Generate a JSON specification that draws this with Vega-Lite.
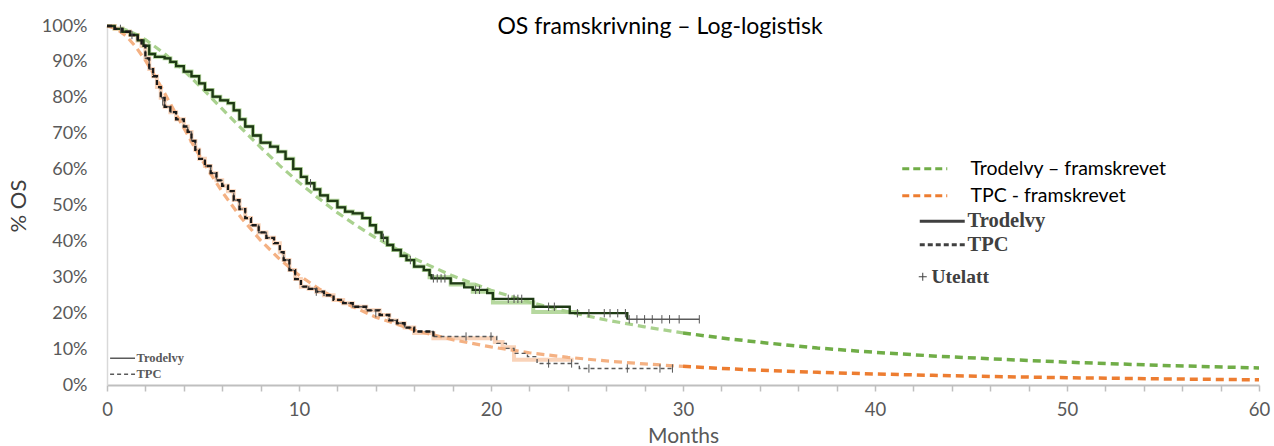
{
  "$schema": "https://vega.github.io/schema/vega-lite/v6.json",
  "width": 1152,
  "height": 359,
  "autosize": "none",
  "padding": {"left": 107, "top": 26, "right": 15, "bottom": 61},
  "background": "white",
  "title": {
    "text": "OS framskrivning – Log-logistisk",
    "frame": "group",
    "anchor": "middle",
    "dx": -23,
    "dy": 30,
    "offset": -10,
    "baseline": "alphabetic",
    "font": "Lato",
    "fontSize": 23,
    "fontWeight": "normal",
    "color": "#000000"
  },
  "config": {
    "view": {"stroke": null},
    "font": "Lato"
  },
  "datasets": {
    "fit": [
      {"serie": "Trodelvy – framskrevet", "t": 0, "S": 100},
      {"serie": "Trodelvy – framskrevet", "t": 0.5, "S": 99.7},
      {"serie": "Trodelvy – framskrevet", "t": 1, "S": 98.9},
      {"serie": "Trodelvy – framskrevet", "t": 1.5, "S": 97.7},
      {"serie": "Trodelvy – framskrevet", "t": 2, "S": 96.2},
      {"serie": "Trodelvy – framskrevet", "t": 3, "S": 92.3},
      {"serie": "Trodelvy – framskrevet", "t": 4, "S": 87.6},
      {"serie": "Trodelvy – framskrevet", "t": 5, "S": 82.4},
      {"serie": "Trodelvy – framskrevet", "t": 6, "S": 76.9},
      {"serie": "Trodelvy – framskrevet", "t": 7, "S": 71.5},
      {"serie": "Trodelvy – framskrevet", "t": 8, "S": 66.2},
      {"serie": "Trodelvy – framskrevet", "t": 9, "S": 61.1},
      {"serie": "Trodelvy – framskrevet", "t": 10, "S": 56.4},
      {"serie": "Trodelvy – framskrevet", "t": 11, "S": 52.1},
      {"serie": "Trodelvy – framskrevet", "t": 12, "S": 48.0},
      {"serie": "Trodelvy – framskrevet", "t": 13, "S": 44.4},
      {"serie": "Trodelvy – framskrevet", "t": 14, "S": 41.0},
      {"serie": "Trodelvy – framskrevet", "t": 16, "S": 35.2},
      {"serie": "Trodelvy – framskrevet", "t": 18, "S": 30.4},
      {"serie": "Trodelvy – framskrevet", "t": 20, "S": 26.4},
      {"serie": "Trodelvy – framskrevet", "t": 22, "S": 23.1},
      {"serie": "Trodelvy – framskrevet", "t": 24, "S": 20.4},
      {"serie": "Trodelvy – framskrevet", "t": 26, "S": 18.1},
      {"serie": "Trodelvy – framskrevet", "t": 28, "S": 16.2},
      {"serie": "Trodelvy – framskrevet", "t": 30, "S": 14.5},
      {"serie": "Trodelvy – framskrevet", "t": 32, "S": 13.1},
      {"serie": "Trodelvy – framskrevet", "t": 34, "S": 11.9},
      {"serie": "Trodelvy – framskrevet", "t": 37, "S": 10.3},
      {"serie": "Trodelvy – framskrevet", "t": 40, "S": 9.1},
      {"serie": "Trodelvy – framskrevet", "t": 43, "S": 8.1},
      {"serie": "Trodelvy – framskrevet", "t": 46, "S": 7.3},
      {"serie": "Trodelvy – framskrevet", "t": 50, "S": 6.35},
      {"serie": "Trodelvy – framskrevet", "t": 55, "S": 5.45},
      {"serie": "Trodelvy – framskrevet", "t": 60, "S": 4.75},
      {"serie": "TPC - framskrevet", "t": 0, "S": 100},
      {"serie": "TPC - framskrevet", "t": 0.5, "S": 99.2},
      {"serie": "TPC - framskrevet", "t": 1, "S": 97.2},
      {"serie": "TPC - framskrevet", "t": 1.5, "S": 94.2},
      {"serie": "TPC - framskrevet", "t": 2, "S": 90.4},
      {"serie": "TPC - framskrevet", "t": 2.5, "S": 86.0},
      {"serie": "TPC - framskrevet", "t": 3, "S": 81.3},
      {"serie": "TPC - framskrevet", "t": 3.5, "S": 76.4},
      {"serie": "TPC - framskrevet", "t": 4, "S": 71.6},
      {"serie": "TPC - framskrevet", "t": 4.5, "S": 66.8},
      {"serie": "TPC - framskrevet", "t": 5, "S": 62.2},
      {"serie": "TPC - framskrevet", "t": 6, "S": 53.8},
      {"serie": "TPC - framskrevet", "t": 7, "S": 46.5},
      {"serie": "TPC - framskrevet", "t": 8, "S": 40.3},
      {"serie": "TPC - framskrevet", "t": 9, "S": 35.0},
      {"serie": "TPC - framskrevet", "t": 10, "S": 30.6},
      {"serie": "TPC - framskrevet", "t": 11, "S": 26.9},
      {"serie": "TPC - framskrevet", "t": 12, "S": 23.8},
      {"serie": "TPC - framskrevet", "t": 14, "S": 18.9},
      {"serie": "TPC - framskrevet", "t": 16, "S": 15.3},
      {"serie": "TPC - framskrevet", "t": 18, "S": 12.6},
      {"serie": "TPC - framskrevet", "t": 20, "S": 10.6},
      {"serie": "TPC - framskrevet", "t": 22, "S": 8.98},
      {"serie": "TPC - framskrevet", "t": 24, "S": 7.71},
      {"serie": "TPC - framskrevet", "t": 26, "S": 6.70},
      {"serie": "TPC - framskrevet", "t": 28, "S": 5.87},
      {"serie": "TPC - framskrevet", "t": 30, "S": 5.19},
      {"serie": "TPC - framskrevet", "t": 32, "S": 4.62},
      {"serie": "TPC - framskrevet", "t": 34, "S": 4.13},
      {"serie": "TPC - framskrevet", "t": 37, "S": 3.54},
      {"serie": "TPC - framskrevet", "t": 40, "S": 3.07},
      {"serie": "TPC - framskrevet", "t": 43, "S": 2.69},
      {"serie": "TPC - framskrevet", "t": 46, "S": 2.37},
      {"serie": "TPC - framskrevet", "t": 50, "S": 2.03},
      {"serie": "TPC - framskrevet", "t": 55, "S": 1.70},
      {"serie": "TPC - framskrevet", "t": 60, "S": 1.44}
    ],
    "km": [
      {"arm": "Trodelvy", "t": 0, "S": 100},
      {"arm": "Trodelvy", "t": 0.4, "S": 99.2},
      {"arm": "Trodelvy", "t": 0.8, "S": 98.4},
      {"arm": "Trodelvy", "t": 1.2, "S": 97.5},
      {"arm": "Trodelvy", "t": 1.6, "S": 96.0},
      {"arm": "Trodelvy", "t": 1.9, "S": 94.5},
      {"arm": "Trodelvy", "t": 2.2, "S": 92.2},
      {"arm": "Trodelvy", "t": 2.5, "S": 91.4},
      {"arm": "Trodelvy", "t": 3.0, "S": 91.0},
      {"arm": "Trodelvy", "t": 3.3, "S": 90.0},
      {"arm": "Trodelvy", "t": 3.6, "S": 88.8},
      {"arm": "Trodelvy", "t": 4.0, "S": 87.3},
      {"arm": "Trodelvy", "t": 4.4, "S": 86.0},
      {"arm": "Trodelvy", "t": 4.8, "S": 84.0},
      {"arm": "Trodelvy", "t": 5.1, "S": 82.2},
      {"arm": "Trodelvy", "t": 5.5, "S": 80.3},
      {"arm": "Trodelvy", "t": 5.9, "S": 79.3},
      {"arm": "Trodelvy", "t": 6.3, "S": 78.5},
      {"arm": "Trodelvy", "t": 6.6, "S": 76.5},
      {"arm": "Trodelvy", "t": 6.9, "S": 74.0},
      {"arm": "Trodelvy", "t": 7.2, "S": 72.0},
      {"arm": "Trodelvy", "t": 7.6, "S": 69.5},
      {"arm": "Trodelvy", "t": 8.0, "S": 67.5},
      {"arm": "Trodelvy", "t": 8.5, "S": 66.4},
      {"arm": "Trodelvy", "t": 8.9, "S": 65.0},
      {"arm": "Trodelvy", "t": 9.3, "S": 63.0},
      {"arm": "Trodelvy", "t": 9.7, "S": 60.2},
      {"arm": "Trodelvy", "t": 10.1, "S": 58.0},
      {"arm": "Trodelvy", "t": 10.4, "S": 56.2},
      {"arm": "Trodelvy", "t": 10.8, "S": 54.5},
      {"arm": "Trodelvy", "t": 11.1, "S": 52.8},
      {"arm": "Trodelvy", "t": 11.5, "S": 51.3},
      {"arm": "Trodelvy", "t": 12.0, "S": 49.5},
      {"arm": "Trodelvy", "t": 12.4, "S": 48.3},
      {"arm": "Trodelvy", "t": 12.8, "S": 47.8},
      {"arm": "Trodelvy", "t": 13.3, "S": 46.5},
      {"arm": "Trodelvy", "t": 13.7, "S": 44.5},
      {"arm": "Trodelvy", "t": 14.0, "S": 42.5},
      {"arm": "Trodelvy", "t": 14.3, "S": 41.0},
      {"arm": "Trodelvy", "t": 14.6, "S": 39.0},
      {"arm": "Trodelvy", "t": 14.9, "S": 37.6},
      {"arm": "Trodelvy", "t": 15.3, "S": 36.0},
      {"arm": "Trodelvy", "t": 15.6, "S": 34.8},
      {"arm": "Trodelvy", "t": 16.0, "S": 33.0},
      {"arm": "Trodelvy", "t": 16.5, "S": 32.0},
      {"arm": "Trodelvy", "t": 16.8, "S": 30.6},
      {"arm": "Trodelvy", "t": 16.9, "S": 29.7},
      {"arm": "Trodelvy", "t": 17.9, "S": 28.3},
      {"arm": "Trodelvy", "t": 18.6, "S": 27.2},
      {"arm": "Trodelvy", "t": 19.05, "S": 26.5},
      {"arm": "Trodelvy", "t": 19.8, "S": 25.6},
      {"arm": "Trodelvy", "t": 20.1, "S": 24.0},
      {"arm": "Trodelvy", "t": 22.2, "S": 21.8},
      {"arm": "Trodelvy", "t": 24.1, "S": 20.0},
      {"arm": "Trodelvy", "t": 27.1, "S": 18.3},
      {"arm": "Trodelvy", "t": 30.85, "S": 18.3},
      {"arm": "TPC", "t": 0, "S": 100},
      {"arm": "TPC", "t": 0.4, "S": 99.2},
      {"arm": "TPC", "t": 0.8, "S": 98.4},
      {"arm": "TPC", "t": 1.2, "S": 97.5},
      {"arm": "TPC", "t": 1.6, "S": 96.0},
      {"arm": "TPC", "t": 1.8, "S": 94.5},
      {"arm": "TPC", "t": 2.0, "S": 91.0},
      {"arm": "TPC", "t": 2.2, "S": 88.0},
      {"arm": "TPC", "t": 2.4, "S": 86.0},
      {"arm": "TPC", "t": 2.6, "S": 83.0},
      {"arm": "TPC", "t": 2.8, "S": 80.0},
      {"arm": "TPC", "t": 3.0, "S": 77.5},
      {"arm": "TPC", "t": 3.3, "S": 76.0},
      {"arm": "TPC", "t": 3.6, "S": 74.0},
      {"arm": "TPC", "t": 4.0, "S": 72.0},
      {"arm": "TPC", "t": 4.2, "S": 70.5},
      {"arm": "TPC", "t": 4.4, "S": 68.0},
      {"arm": "TPC", "t": 4.6, "S": 65.5},
      {"arm": "TPC", "t": 4.8, "S": 63.0},
      {"arm": "TPC", "t": 5.1, "S": 61.0},
      {"arm": "TPC", "t": 5.4, "S": 59.0},
      {"arm": "TPC", "t": 5.7, "S": 57.0},
      {"arm": "TPC", "t": 6.0, "S": 55.5},
      {"arm": "TPC", "t": 6.3, "S": 54.0},
      {"arm": "TPC", "t": 6.6, "S": 51.5},
      {"arm": "TPC", "t": 6.9, "S": 49.0},
      {"arm": "TPC", "t": 7.2, "S": 46.5},
      {"arm": "TPC", "t": 7.5, "S": 44.5},
      {"arm": "TPC", "t": 7.9, "S": 42.5},
      {"arm": "TPC", "t": 8.3, "S": 41.0},
      {"arm": "TPC", "t": 8.7, "S": 39.5},
      {"arm": "TPC", "t": 9.0, "S": 37.0},
      {"arm": "TPC", "t": 9.2, "S": 34.8},
      {"arm": "TPC", "t": 9.5, "S": 32.0},
      {"arm": "TPC", "t": 9.8, "S": 29.5},
      {"arm": "TPC", "t": 10.1, "S": 27.4},
      {"arm": "TPC", "t": 10.5, "S": 26.8},
      {"arm": "TPC", "t": 10.9, "S": 26.0},
      {"arm": "TPC", "t": 11.3, "S": 25.0},
      {"arm": "TPC", "t": 11.8, "S": 23.7},
      {"arm": "TPC", "t": 12.3, "S": 22.8},
      {"arm": "TPC", "t": 12.8, "S": 21.8},
      {"arm": "TPC", "t": 13.5, "S": 20.8},
      {"arm": "TPC", "t": 14.2, "S": 19.5},
      {"arm": "TPC", "t": 14.7, "S": 18.0},
      {"arm": "TPC", "t": 15.1, "S": 17.2},
      {"arm": "TPC", "t": 15.5, "S": 16.0},
      {"arm": "TPC", "t": 16.0, "S": 14.9},
      {"arm": "TPC", "t": 17.0, "S": 13.5},
      {"arm": "TPC", "t": 20.3, "S": 11.6},
      {"arm": "TPC", "t": 20.8, "S": 10.2},
      {"arm": "TPC", "t": 21.2, "S": 8.8},
      {"arm": "TPC", "t": 21.9, "S": 7.9},
      {"arm": "TPC", "t": 22.4, "S": 6.0},
      {"arm": "TPC", "t": 24.6, "S": 4.6},
      {"arm": "TPC", "t": 29.45, "S": 4.6}
    ],
    "dig": [
      {"arm": "Trodelvy", "t": 0, "S": 100},
      {"arm": "Trodelvy", "t": 0.4, "S": 99.2},
      {"arm": "Trodelvy", "t": 0.8, "S": 98.4},
      {"arm": "Trodelvy", "t": 1.2, "S": 97.5},
      {"arm": "Trodelvy", "t": 1.6, "S": 96.0},
      {"arm": "Trodelvy", "t": 1.9, "S": 94.5},
      {"arm": "Trodelvy", "t": 2.2, "S": 92.2},
      {"arm": "Trodelvy", "t": 2.5, "S": 91.4},
      {"arm": "Trodelvy", "t": 3.0, "S": 91.0},
      {"arm": "Trodelvy", "t": 3.3, "S": 90.0},
      {"arm": "Trodelvy", "t": 3.6, "S": 88.8},
      {"arm": "Trodelvy", "t": 4.0, "S": 87.3},
      {"arm": "Trodelvy", "t": 4.4, "S": 86.0},
      {"arm": "Trodelvy", "t": 4.8, "S": 84.0},
      {"arm": "Trodelvy", "t": 5.1, "S": 82.2},
      {"arm": "Trodelvy", "t": 5.5, "S": 80.3},
      {"arm": "Trodelvy", "t": 5.9, "S": 79.3},
      {"arm": "Trodelvy", "t": 6.3, "S": 78.5},
      {"arm": "Trodelvy", "t": 6.6, "S": 76.5},
      {"arm": "Trodelvy", "t": 6.9, "S": 74.0},
      {"arm": "Trodelvy", "t": 7.2, "S": 72.0},
      {"arm": "Trodelvy", "t": 7.6, "S": 69.5},
      {"arm": "Trodelvy", "t": 8.0, "S": 67.5},
      {"arm": "Trodelvy", "t": 8.5, "S": 66.4},
      {"arm": "Trodelvy", "t": 8.9, "S": 65.0},
      {"arm": "Trodelvy", "t": 9.3, "S": 63.0},
      {"arm": "Trodelvy", "t": 9.7, "S": 60.2},
      {"arm": "Trodelvy", "t": 10.1, "S": 58.0},
      {"arm": "Trodelvy", "t": 10.4, "S": 56.2},
      {"arm": "Trodelvy", "t": 10.8, "S": 54.5},
      {"arm": "Trodelvy", "t": 11.1, "S": 52.8},
      {"arm": "Trodelvy", "t": 11.5, "S": 51.3},
      {"arm": "Trodelvy", "t": 12.0, "S": 49.5},
      {"arm": "Trodelvy", "t": 12.4, "S": 48.3},
      {"arm": "Trodelvy", "t": 12.8, "S": 47.8},
      {"arm": "Trodelvy", "t": 13.3, "S": 46.5},
      {"arm": "Trodelvy", "t": 13.7, "S": 44.5},
      {"arm": "Trodelvy", "t": 14.0, "S": 42.5},
      {"arm": "Trodelvy", "t": 14.3, "S": 41.0},
      {"arm": "Trodelvy", "t": 14.6, "S": 39.0},
      {"arm": "Trodelvy", "t": 14.9, "S": 37.6},
      {"arm": "Trodelvy", "t": 15.3, "S": 36.0},
      {"arm": "Trodelvy", "t": 15.6, "S": 34.8},
      {"arm": "Trodelvy", "t": 16.0, "S": 33.0},
      {"arm": "Trodelvy", "t": 16.5, "S": 32.0},
      {"arm": "Trodelvy", "t": 16.8, "S": 30.0},
      {"arm": "Trodelvy", "t": 17.9, "S": 28.0},
      {"arm": "Trodelvy", "t": 19.05, "S": 26.0},
      {"arm": "Trodelvy", "t": 20.1, "S": 23.0},
      {"arm": "Trodelvy", "t": 22.2, "S": 20.3},
      {"arm": "Trodelvy", "t": 24.6, "S": 20.3},
      {"arm": "TPC", "t": 0, "S": 100},
      {"arm": "TPC", "t": 0.4, "S": 99.2},
      {"arm": "TPC", "t": 0.8, "S": 98.4},
      {"arm": "TPC", "t": 1.2, "S": 97.5},
      {"arm": "TPC", "t": 1.6, "S": 96.0},
      {"arm": "TPC", "t": 1.8, "S": 94.5},
      {"arm": "TPC", "t": 2.0, "S": 91.0},
      {"arm": "TPC", "t": 2.2, "S": 88.0},
      {"arm": "TPC", "t": 2.4, "S": 86.0},
      {"arm": "TPC", "t": 2.6, "S": 83.0},
      {"arm": "TPC", "t": 2.8, "S": 80.0},
      {"arm": "TPC", "t": 3.0, "S": 77.5},
      {"arm": "TPC", "t": 3.3, "S": 76.0},
      {"arm": "TPC", "t": 3.6, "S": 74.0},
      {"arm": "TPC", "t": 4.0, "S": 72.0},
      {"arm": "TPC", "t": 4.2, "S": 70.5},
      {"arm": "TPC", "t": 4.4, "S": 68.0},
      {"arm": "TPC", "t": 4.6, "S": 65.5},
      {"arm": "TPC", "t": 4.8, "S": 63.0},
      {"arm": "TPC", "t": 5.1, "S": 61.0},
      {"arm": "TPC", "t": 5.4, "S": 59.0},
      {"arm": "TPC", "t": 5.7, "S": 57.0},
      {"arm": "TPC", "t": 6.0, "S": 55.5},
      {"arm": "TPC", "t": 6.3, "S": 54.0},
      {"arm": "TPC", "t": 6.6, "S": 51.5},
      {"arm": "TPC", "t": 6.9, "S": 49.0},
      {"arm": "TPC", "t": 7.2, "S": 46.5},
      {"arm": "TPC", "t": 7.5, "S": 44.5},
      {"arm": "TPC", "t": 7.9, "S": 42.5},
      {"arm": "TPC", "t": 8.3, "S": 41.0},
      {"arm": "TPC", "t": 8.7, "S": 39.5},
      {"arm": "TPC", "t": 9.0, "S": 37.0},
      {"arm": "TPC", "t": 9.2, "S": 34.8},
      {"arm": "TPC", "t": 9.5, "S": 32.0},
      {"arm": "TPC", "t": 9.8, "S": 29.5},
      {"arm": "TPC", "t": 10.1, "S": 27.4},
      {"arm": "TPC", "t": 10.5, "S": 26.8},
      {"arm": "TPC", "t": 10.9, "S": 26.0},
      {"arm": "TPC", "t": 11.3, "S": 25.0},
      {"arm": "TPC", "t": 11.8, "S": 23.7},
      {"arm": "TPC", "t": 12.3, "S": 22.8},
      {"arm": "TPC", "t": 12.8, "S": 21.8},
      {"arm": "TPC", "t": 13.5, "S": 20.8},
      {"arm": "TPC", "t": 14.2, "S": 19.5},
      {"arm": "TPC", "t": 14.7, "S": 18.0},
      {"arm": "TPC", "t": 15.1, "S": 17.2},
      {"arm": "TPC", "t": 15.5, "S": 16.0},
      {"arm": "TPC", "t": 16.0, "S": 14.5},
      {"arm": "TPC", "t": 17.0, "S": 13.0},
      {"arm": "TPC", "t": 20.2, "S": 12.0},
      {"arm": "TPC", "t": 20.6, "S": 10.5},
      {"arm": "TPC", "t": 21.2, "S": 7.0},
      {"arm": "TPC", "t": 24.3, "S": 7.0}
    ],
    "cens": [
      {"arm": "Trodelvy", "t": 0.7, "S": 99.2},
      {"arm": "Trodelvy", "t": 1.3, "S": 97.5},
      {"arm": "Trodelvy", "t": 10.6, "S": 56.2},
      {"arm": "Trodelvy", "t": 14.4, "S": 41.0},
      {"arm": "Trodelvy", "t": 15.8, "S": 34.8},
      {"arm": "Trodelvy", "t": 17.0, "S": 29.7},
      {"arm": "Trodelvy", "t": 17.2, "S": 29.7},
      {"arm": "Trodelvy", "t": 17.4, "S": 29.7},
      {"arm": "Trodelvy", "t": 17.6, "S": 29.7},
      {"arm": "Trodelvy", "t": 19.2, "S": 26.5},
      {"arm": "Trodelvy", "t": 19.4, "S": 26.5},
      {"arm": "Trodelvy", "t": 20.9, "S": 24.0},
      {"arm": "Trodelvy", "t": 21.2, "S": 24.0},
      {"arm": "Trodelvy", "t": 21.4, "S": 24.0},
      {"arm": "Trodelvy", "t": 21.6, "S": 24.0},
      {"arm": "Trodelvy", "t": 23.0, "S": 21.8},
      {"arm": "Trodelvy", "t": 23.3, "S": 21.8},
      {"arm": "Trodelvy", "t": 24.5, "S": 20.0},
      {"arm": "Trodelvy", "t": 25.1, "S": 20.0},
      {"arm": "Trodelvy", "t": 25.9, "S": 20.0},
      {"arm": "Trodelvy", "t": 26.2, "S": 20.0},
      {"arm": "Trodelvy", "t": 26.6, "S": 20.0},
      {"arm": "Trodelvy", "t": 27.0, "S": 20.0},
      {"arm": "Trodelvy", "t": 27.2, "S": 18.3},
      {"arm": "Trodelvy", "t": 27.6, "S": 18.3},
      {"arm": "Trodelvy", "t": 28.0, "S": 18.3},
      {"arm": "Trodelvy", "t": 28.4, "S": 18.3},
      {"arm": "Trodelvy", "t": 28.9, "S": 18.3},
      {"arm": "Trodelvy", "t": 29.3, "S": 18.3},
      {"arm": "Trodelvy", "t": 29.8, "S": 18.3},
      {"arm": "Trodelvy", "t": 30.85, "S": 18.3},
      {"arm": "TPC", "t": 2.9, "S": 79.0},
      {"arm": "TPC", "t": 10.9, "S": 26.0},
      {"arm": "TPC", "t": 14.0, "S": 20.0},
      {"arm": "TPC", "t": 18.7, "S": 13.5},
      {"arm": "TPC", "t": 20.0, "S": 13.5},
      {"arm": "TPC", "t": 23.0, "S": 6.0},
      {"arm": "TPC", "t": 24.2, "S": 6.0},
      {"arm": "TPC", "t": 25.1, "S": 4.6},
      {"arm": "TPC", "t": 27.1, "S": 4.6},
      {"arm": "TPC", "t": 28.8, "S": 4.6},
      {"arm": "TPC", "t": 29.45, "S": 4.6}
    ]
  },
  "encoding": {
    "x": {
      "field": "t",
      "type": "quantitative",
      "scale": {"domain": [0, 60], "nice": false, "zero": false},
      "axis": {
        "title": "Months",
        "values": [0,2,4,6,8,10,12,14,16,18,20,22,24,26,28,30,32,34,36,38,40,42,44,46,48,50,52,54,56,58,60],
        "labelExpr": "datum.value % 10 === 0 ? datum.label : ''",
        "labelOverlap": false,
        "labelFlush": false,
        "grid": false,
        "domainColor": "#BFBFBF",
        "domainWidth": 2,
        "tickColor": "#BFBFBF",
        "tickWidth": 1.5,
        "tickSize": 6,
        "labelFont": "Lato",
        "labelFontSize": 18.5,
        "labelColor": "#595959",
        "labelPadding": 9,
        "titleFont": "Lato",
        "titleFontSize": 21,
        "titleFontWeight": "normal",
        "titleColor": "#595959",
        "titlePadding": 7
      }
    },
    "y": {
      "field": "S",
      "type": "quantitative",
      "scale": {"domain": [0, 100], "nice": false},
      "axis": {
        "title": "% OS",
        "values": [0,10,20,30,40,50,60,70,80,90,100],
        "labelExpr": "datum.value + '%'",
        "grid": false,
        "ticks": false,
        "domainColor": "#D9D9D9",
        "domainWidth": 1.5,
        "labelFont": "Lato",
        "labelFontSize": 18,
        "labelColor": "#595959",
        "labelPadding": 20,
        "titleFont": "Lato",
        "titleFontSize": 22,
        "titleFontWeight": "normal",
        "titleColor": "#404040",
        "titlePadding": 11
      }
    }
  },
  "layer": [
    {
      "data": {"name": "dig"},
      "mark": {"type": "line", "interpolate": "step-after", "strokeWidth": 4, "opacity": 0.85},
      "encoding": {
        "color": {"field": "arm", "type": "nominal", "scale": {"domain": ["Trodelvy", "TPC"], "range": ["#A9D18E", "#F8CBAD"]}, "legend": null}
      }
    },
    {
      "data": {"name": "fit"},
      "transform": [{"filter": "datum.t <= 30"}],
      "mark": {"type": "line", "strokeWidth": 3.2, "strokeDash": [8, 5]},
      "encoding": {
        "color": {"field": "serie", "type": "nominal", "scale": {"domain": ["Trodelvy – framskrevet", "TPC - framskrevet"], "range": ["#A9D18E", "#F4B183"]}, "legend": null}
      }
    },
    {
      "data": {"name": "fit"},
      "transform": [{"filter": "datum.t >= 30"}],
      "mark": {"type": "line", "strokeWidth": 3.5, "strokeDash": [8, 5]},
      "encoding": {
        "color": {
          "field": "serie", "type": "nominal",
          "scale": {"domain": ["Trodelvy – framskrevet", "TPC - framskrevet"], "range": ["#70AD47", "#ED7D31"]},
          "legend": {
            "title": null,
            "orient": "none",
            "legendX": 793,
            "legendY": 133,
            "symbolType": "M-1,0L5,0",
            "symbolSize": 225,
            "symbolStrokeWidth": 3,
            "symbolDash": [7, 4],
            "labelOffset": 51,
            "labelLimit": 400,
            "labelFont": "Lato",
            "labelFontSize": 19.5,
            "labelColor": "#000000",
            "rowPadding": 6
          }
        }
      }
    },
    {
      "data": {"name": "km"},
      "mark": {"type": "line", "interpolate": "step-after", "strokeWidth": 1.4, "color": "#5A5A5A"},
      "encoding": {
        "strokeDash": {
          "field": "arm", "type": "nominal",
          "scale": {"domain": ["Trodelvy", "TPC"], "range": [[1, 0], [4, 3]]},
          "legend": {
            "title": null,
            "orient": "none",
            "legendX": 1,
            "legendY": 326,
            "symbolType": "M-1,0L5,0",
            "symbolSize": 69,
            "symbolStrokeWidth": 1.5,
            "symbolStrokeColor": "#5A5A5A",
            "labelOffset": 16,
            "labelFont": "Liberation Serif",
            "labelFontWeight": "bold",
            "labelFontSize": 12.5,
            "labelColor": "#595959",
            "rowPadding": 3
          }
        }
      }
    },
    {
      "data": {"name": "km"},
      "transform": [{"filter": "(datum.arm === 'Trodelvy' && datum.t <= 27.1) || (datum.arm === 'TPC' && datum.t <= 17)"}],
      "mark": {"type": "line", "interpolate": "step-after", "strokeWidth": 2.3},
      "encoding": {
        "color": {"condition": {"test": "datum.arm === 'TPC'", "value": "#1A1A1A"}, "value": "#1E3A14"},
        "strokeDash": {
          "field": "arm", "type": "nominal",
          "scale": {"domain": ["Trodelvy", "TPC"], "range": [[1, 0], [5, 3]]},
          "legend": {
            "title": null,
            "orient": "none",
            "legendX": 810,
            "legendY": 185,
            "symbolType": "M-1,0L5,0",
            "symbolSize": 225,
            "symbolStrokeWidth": 3,
            "symbolStrokeColor": "#404040",
            "labelOffset": 30,
            "labelFont": "Liberation Serif",
            "labelFontWeight": "bold",
            "labelFontSize": 20.5,
            "labelColor": "#404040",
            "rowPadding": 2.5
          }
        }
      }
    },
    {
      "data": {"name": "cens"},
      "mark": {"type": "point", "filled": false, "size": 70, "strokeWidth": 1, "color": "#555555", "shape": "M0,-1L0,1"},
      "encoding": {
        "opacity": {
          "datum": "Utelatt",
          "type": "nominal",
          "scale": {"domain": ["Utelatt"], "range": [1]},
          "legend": {
            "title": null,
            "orient": "none",
            "legendX": 806,
            "legendY": 241,
            "symbolType": "M-1,0L1,0M0,-1L0,1",
            "symbolSize": 64,
            "symbolStrokeWidth": 1,
            "symbolStrokeColor": "#404040",
            "symbolFillColor": "transparent",
            "labelOffset": -1,
            "labelFont": "Liberation Serif",
            "labelFontWeight": "bold",
            "labelFontSize": 19.5,
            "labelColor": "#404040"
          }
        }
      }
    }
  ],
  "resolve": {"scale": {"color": "independent", "strokeDash": "independent", "shape": "independent", "opacity": "independent"}}
}
